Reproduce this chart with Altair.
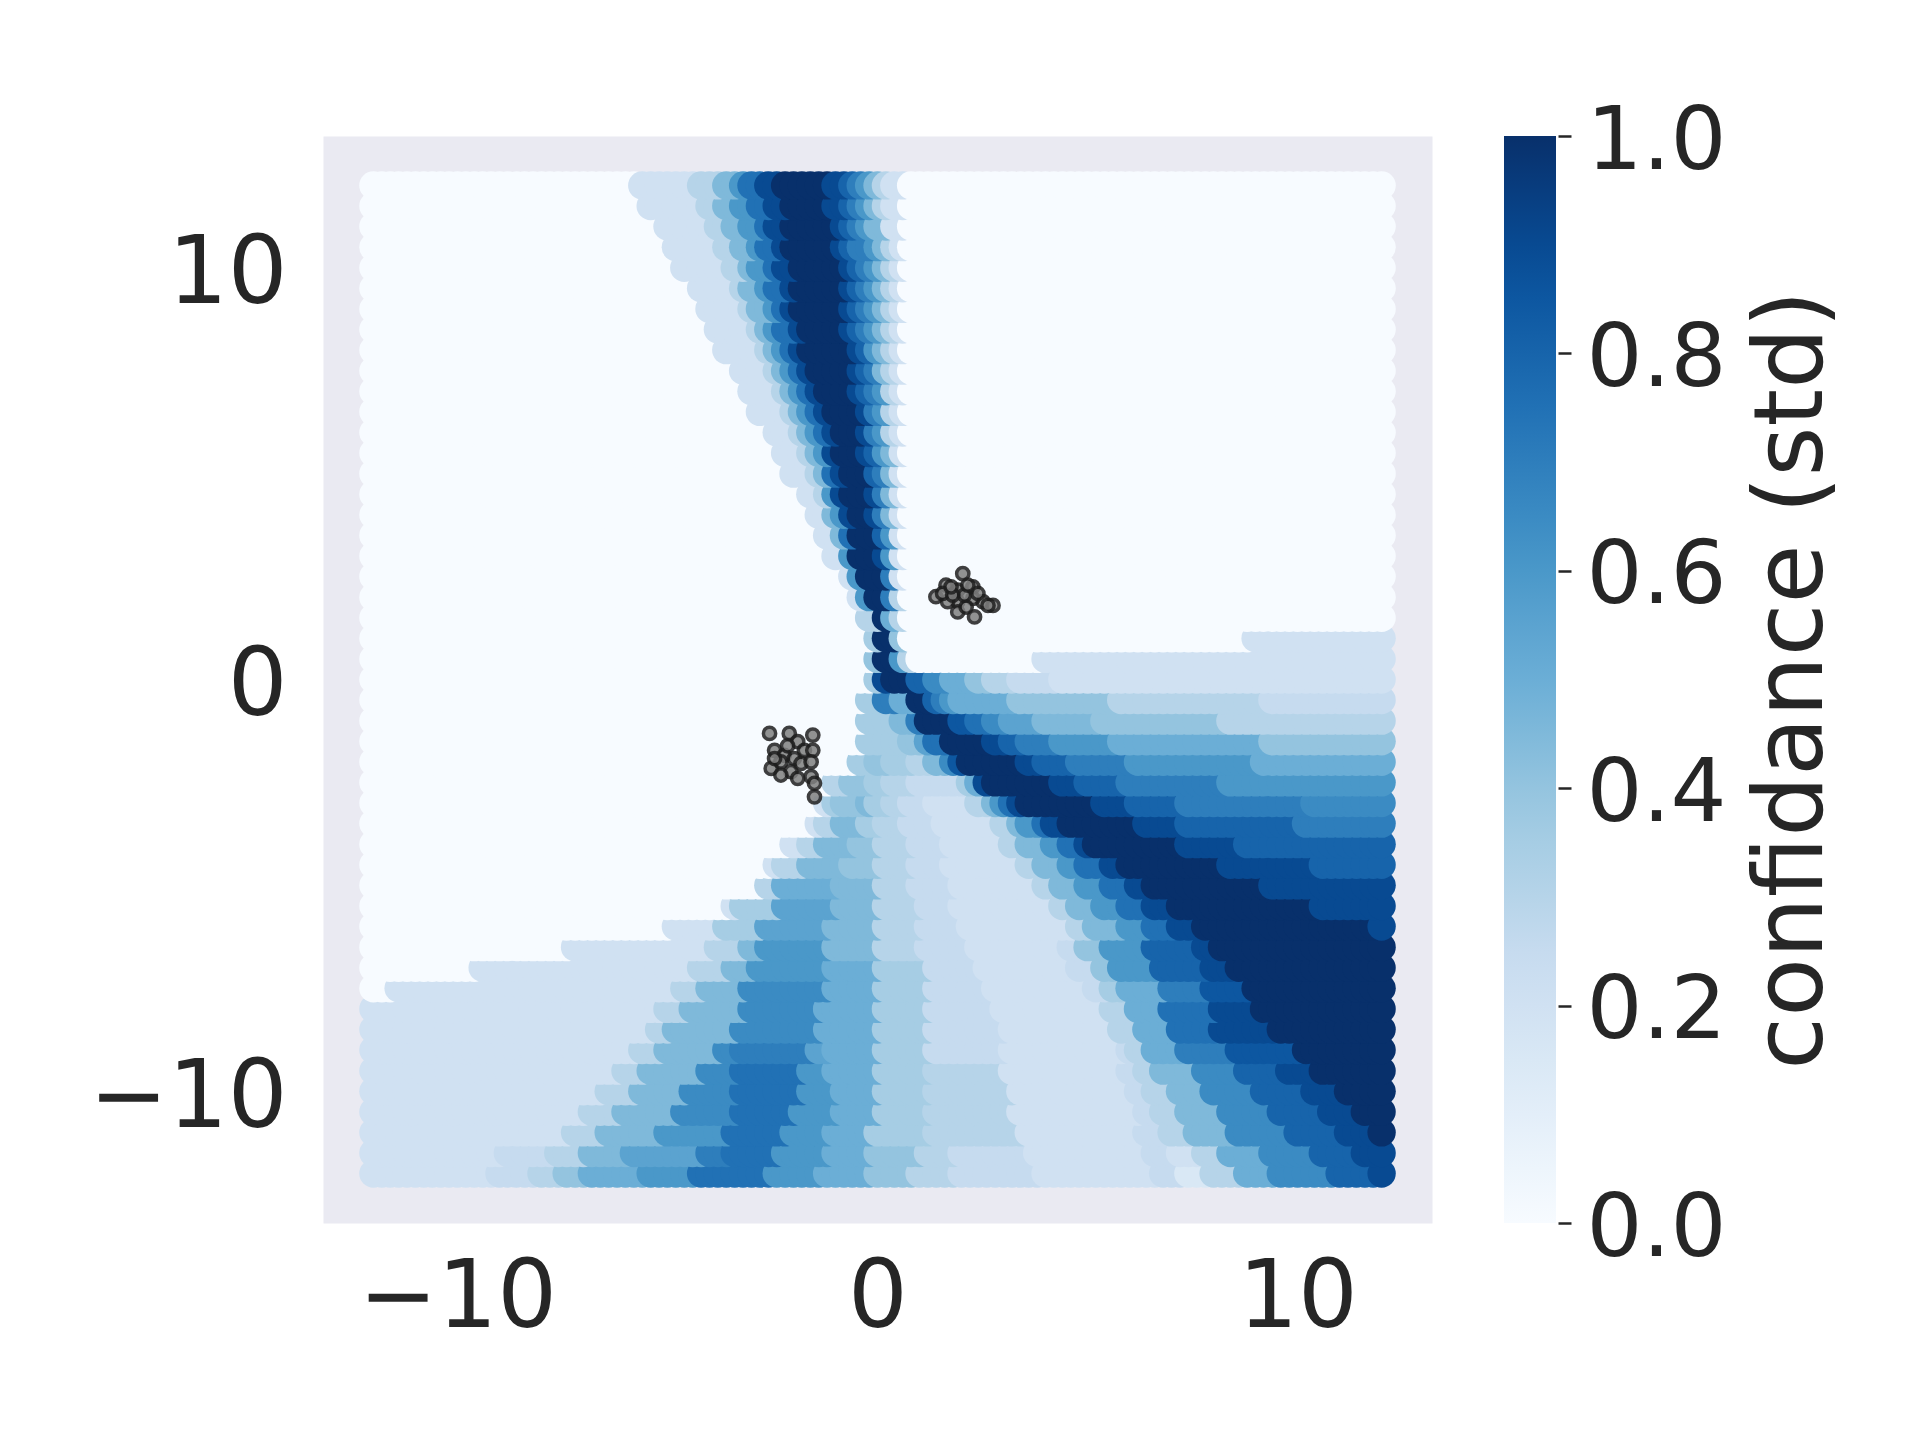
import altair as alt
import numpy as np
import pandas as pd

# ---------------- data ----------------
# grid of the colour field: columns every 0.2, rows every 0.5
COL_START, COL_STEP, COL_COUNT = -12.0, 0.2, 121

# each row: "visual_x_start:level" pairs, level 0..1 (std), read row by row
ROW_Y = [12, 11.5, 11, 10.5, 10, 9.5, 9, 8.5, 8, 7.5, 7, 6.5, 6, 5.5, 5, 4.5, 4,
         3.5, 3, 2.5, 2, 1.5, 1, 0.5, 0, -0.5, -1, -1.5, -2, -2.5, -3, -3.5, -4,
         -4.5, -5, -5.5, -6, -6.5, -7, -7.5, -8, -8.5, -9, -9.5, -10, -10.5, -11,
         -11.5, -12]

ROW_BREAKS = [
    "-6.04:.2 -4.61:.3 -4.16:.45 -3.72:.6 -3.38:.75 -3.04:.9 -2.63:1 -1.44:.9 -1.16:.8 -0.92:.7 -0.66:.6 -0.44:.45 -0.21:.3 0.0:.2 0.29:0",
    "-5.78:.2 -4.43:.3 -4.01:.45 -3.59:.6 -3.27:.75 -2.95:.9 -2.56:1 -1.38:.9 -1.11:.8 -0.88:.7 -0.63:.6 -0.41:.45 -0.19:.3 0.01:.2 0.29:0",
    "-5.53:.2 -4.25:.3 -3.85:.45 -3.46:.6 -3.15:.75 -2.85:.9 -2.48:1 -1.31:.9 -1.05:.8 -0.83:.7 -0.59:.6 -0.38:.45 -0.17:.3 0.02:.2 0.29:0",
    "-5.27:.2 -4.07:.3 -3.7:.45 -3.32:.6 -3.04:.75 -2.75:.9 -2.41:1 -1.25:.9 -1.0:.8 -0.79:.7 -0.56:.6 -0.36:.45 -0.16:.3 0.03:.2 0.29:0",
    "-5.01:.2 -3.88:.3 -3.54:.45 -3.19:.6 -2.92:.75 -2.65:.9 -2.33:1 -1.18:.9 -0.94:.8 -0.74:.7 -0.52:.6 -0.33:.45 -0.14:.3 0.04:.2 0.29:0",
    "-4.75:.2 -3.7:.3 -3.38:.45 -3.06:.6 -2.81:.75 -2.56:.9 -2.26:1 -1.12:.9 -0.89:.8 -0.7:.7 -0.49:.6 -0.3:.45 -0.12:.3 0.05:.2 0.29:0",
    "-4.49:.2 -3.52:.3 -3.22:.45 -2.92:.6 -2.69:.75 -2.46:.9 -2.18:1 -1.05:.9 -0.84:.8 -0.65:.7 -0.45:.6 -0.27:.45 -0.1:.3 0.06:.2 0.29:0",
    "-4.24:.2 -3.35:.3 -3.07:.45 -2.79:.6 -2.58:.75 -2.37:.9 -2.11:1 -0.99:.9 -0.79:.8 -0.61:.7 -0.41:.6 -0.25:.45 -0.08:.3 0.07:.2 0.29:0",
    "-3.98:.2 -3.16:.3 -2.91:.45 -2.65:.6 -2.46:.75 -2.26:.9 -2.03:1 -0.92:.9 -0.73:.8 -0.56:.7 -0.38:.6 -0.22:.45 -0.06:.3 0.08:.2 0.29:0",
    "-3.72:.2 -2.96:.3 -2.72:.45 -2.49:.6 -2.31:.75 -2.13:.9 -1.91:1 -0.86:.9 -0.68:.8 -0.51:.7 -0.34:.6 -0.19:.45 -0.04:.3 0.09:.2 0.29:0",
    "-3.46:.2 -2.72:.3 -2.5:.45 -2.27:.6 -2.09:.75 -1.92:.9 -1.71:1 -0.8:.9 -0.63:.8 -0.47:.7 -0.31:.6 -0.17:.45 -0.03:.3 0.1:.2 0.29:0",
    "-3.2:.2 -2.49:.3 -2.26:.45 -2.04:.6 -1.87:.75 -1.7:.9 -1.5:1 -0.73:.9 -0.57:.8 -0.42:.7 -0.27:.6 -0.14:.45 -0.01:.3 0.12:.2 0.29:0",
    "-2.94:.2 -2.28:.3 -2.07:.45 -1.87:.6 -1.71:.75 -1.55:.9 -1.36:1 -0.67:.9 -0.52:.8 -0.38:.7 -0.24:.6 -0.11:.45 0.01:.3 0.13:.2 0.29:0",
    "-2.68:.2 -2.08:.3 -1.9:.45 -1.71:.6 -1.57:.75 -1.43:.9 -1.26:1 -0.59:.9 -0.45:.8 -0.33:.7 -0.19:.6 -0.08:.45 0.03:.3 0.14:.2 0.29:0",
    "-2.42:.2 -1.89:.3 -1.73:.45 -1.57:.6 -1.44:.75 -1.32:.9 -1.17:1 -0.52:.9 -0.39:.8 -0.28:.7 -0.16:.6 -0.05:.45 0.06:.3 0.15:.2 0.29:0",
    "-2.16:.2 -1.7:.3 -1.56:.45 -1.42:.6 -1.31:.75 -1.2:.9 -1.07:1 -0.45:.9 -0.33:.8 -0.23:.7 -0.12:.6 -0.02:.45 0.08:.3 0.16:.2 0.29:0",
    "-1.9:.2 -1.51:.3 -1.39:.45 -1.27:.6 -1.17:.75 -1.08:.9 -0.97:1 -0.38:.9 -0.27:.8 -0.18:.7 -0.08:.6 0.01:.45 0.1:.3 0.18:.2 0.29:0",
    "-1.65:.2 -1.33:.3 -1.23:.45 -1.13:.6 -1.05:.75 -0.97:.9 -0.88:1 -0.3:.9 -0.21:.8 -0.12:.7 -0.03:.6 0.04:.45 0.12:.3 0.19:.2 0.29:0",
    "-1.39:.2 -1.13:.3 -1.05:.45 -0.98:.6 -0.91:.75 -0.85:.9 -0.78:1 -0.23:.9 -0.15:.8 -0.07:.7 0.0:.6 0.07:.45 0.14:.3 0.2:.2 0.29:0",
    "-1.15:.2 -0.93:.3 -0.87:.45 -0.8:.6 -0.74:.75 -0.69:.9 -0.63:1 -0.16:.9 -0.09:.8 -0.02:.7 0.04:.6 0.1:.45 0.16:.3 0.21:.2 0.29:0",
    "-0.9:.2 -0.72:.3 -0.67:.45 -0.61:.6 -0.57:.75 -0.53:.9 -0.48:1 -0.09:.9 -0.03:.8 0.02:.7 0.08:.6 0.13:.45 0.18:.3 0.23:.2 0.29:0",
    "-0.66:.3 -0.34:1 0.0:.5 0.1:.3 0.29:0",
    "-0.54:.35 -0.28:1 0.04:.4 0.29:0 8.5:.2",
    "-0.45:.4 -0.23:1 0.08:.6 0.3:.3 0.55:0 3.5:.2",
    "-0.55:.35 -0.25:.9 0.0:1 0.56:.8 0.87:.65 1.35:.5 1.83:.4 2.3:.3 2.94:.25 3.89:.2",
    "-0.6:.35 -0.25:.7 0.05:.5 0.45:1 0.95:.8 1.1:.7 1.25:.6 1.5:.5 3.0:.4 5.3:.3 9.0:.25",
    "-0.66:.35 0.2:.45 0.5:.7 0.8:1 1.5:.85 1.9:.75 2.3:.65 2.8:.55 3.5:.45 5.0:.4 8.0:.3",
    "-0.75:.35 0.4:.4 0.7:.55 1.0:.75 1.25:1 2.4:.9 2.65:.8 3.2:.7 4.0:.6 5.4:.5 8.85:.4",
    "-0.95:.35 -0.47:.4 0.0:.35 0.6:.3 1.0:.45 1.3:.65 1.5:.85 1.75:1 3.2:.9 3.6:.8 4.4:.7 5.7:.6 8.74:.5",
    "-1.47:.3 -1.1:.4 -0.5:.35 0.0:.3 0.5:.25 1.7:.35 1.9:.5 2.05:.7 2.2:.9 2.4:1 4.0:.9 4.6:.8 5.6:.7 7.86:.6",
    "-1.69:.2 -1.5:.35 -1.2:.4 -0.7:.45 -0.47:.35 0.0:.3 0.32:.25 1.0:.2 2.0:.3 2.25:.45 2.5:.6 2.7:.75 2.9:.9 3.1:1 4.9:.9 5.7:.8 7.0:.7 10:.65",
    "-1.95:.2 -1.63:.3 -1.3:.45 -0.64:.35 -0.3:.3 0.34:.25 1.16:.2 2.51:.3 2.85:.45 3.2:.6 3.5:.75 3.8:.9 4.12:1 5.94:.9 6.86:.8 9.76:.7",
    "-2.52:.2 -2.1:.3 -1.7:.45 -0.9:.4 -0.3:.3 0.45:.25 1.3:.2 2.82:.3 3.2:.45 3.65:.6 4.05:.75 4.45:.9 4.78:1 6.88:.9 8.32:.8",
    "-2.88:.2 -2.6:.3 -2.1:.45 -1.1:.4 -0.3:.3 0.55:.25 1.4:.2 3.16:.3 3.6:.45 4.1:.6 4.6:.75 5.05:.9 5.43:1 7.9:.9 10.08:.8",
    "-3.05:.3 -2.6:.5 -1.3:.45 -0.3:.3 0.6:.25 1.5:.2 3.53:.3 4.0:.45 4.55:.6 5.1:.75 5.65:.9 6.09:1 8.96:.9 11.85:.8",
    "-3.9:.2 -3.6:.35 -2.75:.55 -1.3:.45 -0.3:.3 0.65:.25 1.6:.2 3.9:.3 4.4:.45 5.0:.6 5.6:.75 6.2:.9 6.75:1 10.17:.9",
    "-5.2:.2 -4.0:.35 -3.0:.55 -1.4:.45 -0.3:.3 0.7:.25 1.7:.2 4.26:.3 4.8:.45 5.45:.6 6.1:.75 6.75:.9 7.33:1 11.43:.9",
    "-7.7:.2 -4.35:.3 -3.5:.45 -3.0:.6 -1.4:.45 -0.3:.3 0.75:.25 1.9:.2 4.05:.25 4.6:.4 5.2:.6 6.2:.8 7.3:.9 7.7:1",
    "-9.8:.2 -4.7:.3 -3.9:.45 -3.25:.6 -1.45:.5 -0.3:.35 0.85:.25 2.1:.2 4.4:.25 4.95:.4 5.4:.6 6.35:.8 7.45:.9 8.1:1",
    "-11.8:.2 -5.0:.3 -4.4:.45 -3.4:.65 -1.5:.5 -0.3:.35 0.9:.25 2.3:.2 4.8:.25 5.1:.35 5.5:.5 6.5:.7 7.55:.85 8.5:1",
    "-13:.2 -5.4:.3 -4.9:.45 -3.55:.65 -1.6:.5 -0.3:.35 1.0:.25 2.5:.2 5.1:.3 5.65:.5 6.55:.75 7.65:.9 8.8:1",
    "-13:.2 -5.7:.3 -5.2:.45 -3.6:.65 -1.7:.5 -0.3:.35 1.0:.25 2.65:.2 5.4:.3 5.85:.5 6.7:.75 7.8:.9 9.2:1",
    "-13:.2 -6.1:.3 -5.5:.45 -4.1:.65 -3.6:.7 -1.9:.55 -1.5:.5 -0.3:.35 1.0:.25 2.7:.2 5.5:.25 5.8:.3 6.2:.5 7.0:.7 8.1:.85 9.7:1",
    "-13:.2 -6.45:.3 -5.8:.45 -4.4:.65 -3.6:.75 -2.0:.6 -1.45:.5 -0.3:.35 1.0:.3 2.8:.2 5.6:.25 6.0:.3 6.4:.45 7.3:.65 8.3:.8 9.3:.9 10.2:1",
    "-13:.2 -6.85:.3 -6.1:.45 -4.8:.65 -3.6:.75 -2.15:.6 -1.35:.5 -0.3:.35 1.0:.3 2.9:.2 5.75:.25 6.2:.3 6.65:.45 7.6:.65 8.8:.8 9.9:.9 10.8:1",
    "-13:.2 -7.25:.3 -6.45:.45 -5.1:.65 -3.6:.75 -2.3:.6 -1.3:.5 -0.3:.35 1.0:.3 2.95:.2 5.85:.25 6.35:.3 6.85:.45 7.85:.65 9.1:.8 10.4:.9 11.2:1",
    "-13:.2 -7.6:.3 -6.8:.45 -5.4:.6 -3.9:.75 -2.45:.6 -1.4:.5 -0.4:.35 0.9:.3 3.1:.2 6.0:.25 6.6:.3 7.2:.45 8.2:.65 9.5:.8 10.7:.9 11.5:1",
    "-13:.2 -9.2:.25 -8.1:.3 -7.3:.45 -6.2:.55 -4.5:.7 -3.8:.75 -2.7:.6 -1.5:.5 -0.45:.4 0.7:.3 1.6:.25 3.3:.2 6.2:.25 6.8:.2 7.3:.3 8.0:.5 8.9:.65 10.1:.8 11.2:.9",
    "-13:.2 -9.5:.25 -8.5:.3 -7.86:.4 -7.2:.5 -5.9:.6 -4.6:.75 -2.9:.6 -1.6:.5 -0.5:.4 0.5:.3 1.5:.25 3.5:.2 6.4:.25 7.0:.15 7.5:.3 8.4:.5 9.2:.65 10.5:.8 11.5:.9",
]

# training points (two clusters)
CLUSTER_A_X = [2.03, 1.63, 1.39, 1.91, 2.27, 2.51, 2.75, 2.27, 1.91, 1.67, 2.31, 1.91, 2.11, 1.55, 2.39, 2.63, 2.07, 1.79, 2.15, 1.75]
CLUSTER_A_Y = [2.57, 2.29, 2.01, 2.17, 2.25, 1.89, 1.80, 1.97, 1.89, 1.89, 1.52, 1.64, 1.76, 2.09, 2.09, 1.80, 2.05, 2.05, 2.29, 2.25]
CLUSTER_B_X = [-2.57, -2.10, -1.54, -1.90, -2.45, -2.22, -1.98, -1.74, -1.54, -2.53, -2.30, -2.06, -1.82, -1.58, -2.30, -1.90, -1.58, -1.50, -1.50, -2.45, -2.14]
CLUSTER_B_Y = [-1.31, -1.31, -1.35, -1.51, -1.72, -1.84, -1.92, -1.72, -1.72, -2.16, -2.00, -2.24, -2.04, -2.00, -2.32, -2.40, -2.36, -2.52, -2.85, -1.92, -1.61]

# matplotlib "Blues" anchor colours
BLUES_STOPS = [0, 0.125, 0.25, 0.375, 0.5, 0.625, 0.75, 0.875, 1.0]
BLUES = ["#f7fbff", "#deebf7", "#c6dbef", "#9ecae1", "#6baed6", "#4292c6", "#2171b5", "#08519c", "#08306b"]
CBAR_TICKS = [0.0, 0.2, 0.4, 0.6, 0.8, 1.0]
AXIS_TICKS = [-10, 0, 10]

# ---------------- decode the rows onto the grid ----------------
EDGE = 0.38  # a circle's colour is seen from its left edge (later columns overlap)
cols = np.round(COL_START + COL_STEP * np.arange(COL_COUNT), 2)
records = []
for y, spec in sorted(zip(ROW_Y, ROW_BREAKS), key=lambda t: t[0]):
    segs = [tuple(float(v) for v in tok.split(":")) for tok in spec.split()]
    for x in cols:
        level = 0.0
        for start, val in segs:
            if x - EDGE >= start:
                level = val
            else:
                break
        records.append({"x": float(x), "y": float(y), "std": level})
field = pd.DataFrame(records)

pts = pd.DataFrame({
    "x": CLUSTER_A_X + CLUSTER_B_X,
    "y": CLUSTER_A_Y + CLUSTER_B_Y,
})
cbar = pd.DataFrame({"v": CBAR_TICKS})

FONT = "DejaVu Sans"
TXT = "#262626"

xscale = alt.Scale(domain=[-13.2, 13.2], nice=False, zero=False)
yscale = alt.Scale(domain=[-13.2, 13.2], nice=False, zero=False)

xaxis = alt.Axis(values=AXIS_TICKS, title=None, grid=False, domain=False, ticks=False,
                 labelFontSize=94, labelPadding=29, labelFont=FONT, labelColor=TXT,
                 labelLimit=500, format="d")
yaxis = alt.Axis(values=AXIS_TICKS, title=None, grid=False, domain=False, ticks=False,
                 labelFontSize=94, labelPadding=36, labelFont=FONT, labelColor=TXT,
                 labelLimit=500, labelOffset=7, format="d")

grid = alt.Chart(field).mark_circle(size=804, opacity=1).encode(
    x=alt.X("x:Q", scale=xscale, axis=xaxis),
    y=alt.Y("y:Q", scale=yscale, axis=yaxis),
    color=alt.Color(
        "std:Q",
        scale=alt.Scale(domain=BLUES_STOPS, range=BLUES, interpolate="rgb"),
        legend=alt.Legend(
            title=None, orient="none", legendX=1181, legendY=0, padding=0,
            direction="vertical", gradientLength=1087, gradientThickness=52,
            gradientStrokeWidth=0, values=CBAR_TICKS, labelOpacity=0,
        ),
    ),
)

clusters = alt.Chart(pts).mark_point(
    shape="circle", filled=True, size=150, fill="#808080", stroke="#1e1e1e",
    strokeWidth=3.5, opacity=0.85,
).encode(
    x=alt.X("x:Q", scale=xscale, axis=xaxis),
    y=alt.Y("y:Q", scale=yscale, axis=yaxis),
)

# colour-bar ticks, labels and title drawn by an axis on the [0, 1] std scale
cbar_axis = alt.Chart(cbar).mark_point(opacity=0).encode(
    y=alt.Y("v:Q", scale=alt.Scale(domain=[0, 1], nice=False, zero=False),
            axis=alt.Axis(orient="right", offset=126, values=CBAR_TICKS, format=".1f",
                          grid=False, domain=False, ticks=True, tickSize=13, tickWidth=2.5,
                          tickColor=TXT, labelFontSize=88, labelFont=FONT, labelColor=TXT,
                          labelPadding=15, labelOffset=6, labelLimit=500,
                          title="confidance (std)", titleAngle=270, titleBaseline="top",
                          titleFontSize=96, titleFont=FONT, titleColor=TXT,
                          titleFontWeight="normal", titlePadding=20)),
)

chart = alt.layer(alt.layer(grid, clusters), cbar_axis).resolve_scale(
    y="independent"
).properties(
    width=1109, height=1087,
    autosize=alt.AutoSizeParams(type="none"),
    padding={"left": 315, "top": 128, "right": 480, "bottom": 210},
    background="white",
).configure_view(fill="#eaeaf2", stroke="transparent")

chart.save("out.html", embed_options={"renderer": "svg", "actions": False})
